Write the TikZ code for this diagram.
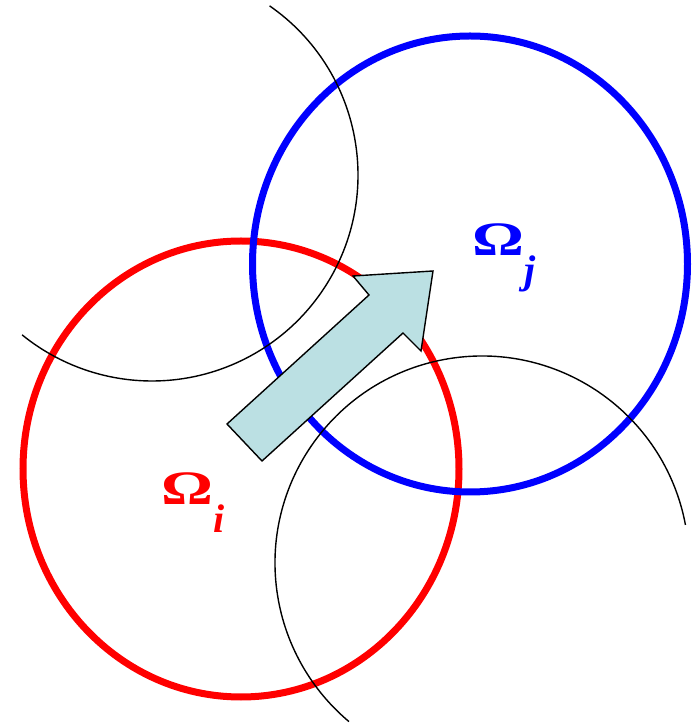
\documentclass[tikz,border=0pt]{standalone}
\usepackage{fontspec}
\setmainfont{Liberation Serif}
\usepackage{tikz}
\usetikzlibrary{calc}

\definecolor{arrowfill}{RGB}{187,224,227}
\tikzset{
  subdom/.style={line width=7pt},
  neighbour/.style={black, line width=1.4pt},
  flux/.style={draw=black, line width=1.4pt, fill=arrowfill, line join=miter},
  omegalabel/.style={inner sep=0pt, anchor=base west}
}
\newcommand{\omlab}[1]{\scalebox{1.35}[1]{\fontsize{48}{48}\selectfont\bfseries Ω}\raisebox{-28pt}{\fontsize{40}{40}\selectfont\bfseries\itshape #1}}

\begin{document}
\begin{tikzpicture}[x=1pt,y=1pt]
                \useasboundingbox (0,0) rectangle (692,723);
                \coordinate (Ci) at (241,254);
                \coordinate (Cj) at (470,459);
                \coordinate (N1) at (152,548);
                \coordinate (N2) at (482,160);
                % the two subdomains
                \draw[subdom, red] (Ci) ellipse [x radius=218, y radius=228];
                \draw[subdom, blue] (Cj) ellipse [x radius=217.5, y radius=228];
                % neighbouring subdomains
                \draw[neighbour] (N1) ++(55.2:206) arc[start angle=55.2, end angle=-129.1, radius=206];
                \draw[neighbour] (N2) ++(10.6:207) arc[start angle=10.6, end angle=230, radius=207];
                % transfer arrow
                \coordinate (A) at (227,299);
                \coordinate (B) at (369,428);
                \coordinate (C) at (353,447);
                \coordinate (D) at (433,452);
                \coordinate (E) at (421,372);
                \coordinate (F) at (403,390);
                \coordinate (G) at (262,262);
                \draw[flux] (A) -- (B) -- (C) -- (D) -- (E) -- (F) -- (G) -- cycle;
                \node[omegalabel, red] (Li) at (161,218) {\omlab{i}};
                \node[omegalabel, blue] (Lj) at (472,467) {\omlab{j}};
            \end{tikzpicture}
\end{document}
